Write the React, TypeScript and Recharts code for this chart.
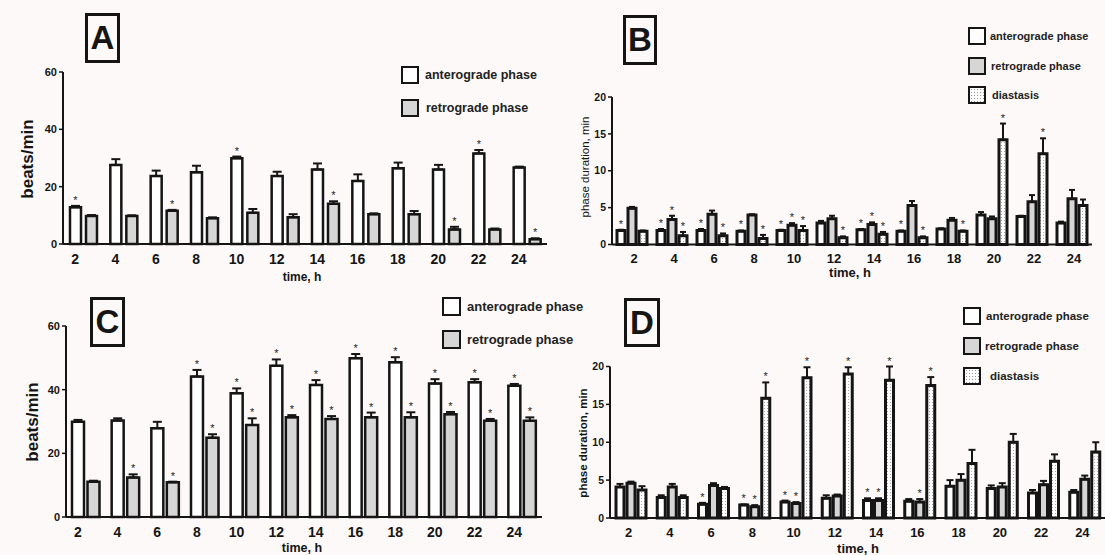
import React from "react";
import { BarChart, Bar, XAxis, YAxis, ErrorBar } from "recharts";

const hours = ["2", "4", "6", "8", "10", "12", "14", "16", "18", "20", "22", "24"];

// A: beats/min, first condition
const aAntero = [12.8, 27.6, 23.7, 25.0, 29.9, 23.7, 26.0, 22.0, 26.4, 26.0, 31.6, 26.7];
const aAnteroSem = [0.5, 2.0, 1.9, 2.3, 0.6, 1.5, 2.1, 2.3, 2.0, 1.6, 1.2, 0.3];
const aAnteroSig = [1, 0, 0, 0, 1, 0, 0, 0, 0, 0, 1, 0];
const aRetro = [9.8, 9.8, 11.6, 9.0, 10.9, 9.3, 14.0, 10.4, 10.4, 5.1, 5.1, 1.7];
const aRetroSem = [0.3, 0.2, 0.3, 0.3, 1.3, 1.1, 0.9, 0.3, 1.1, 0.9, 0.3, 0.3];
const aRetroSig = [0, 0, 1, 0, 0, 0, 1, 0, 0, 1, 0, 1];

// B: phase duration, first condition
const bAntero = [1.9, 1.9, 1.9, 1.8, 1.9, 2.9, 2.0, 1.8, 2.1, 4.0, 3.8, 2.9];
const bAnteroSem = [0.1, 0.2, 0.2, 0.1, 0.1, 0.3, 0.1, 0.1, 0.1, 0.4, 0.1, 0.2];
const bAnteroSig = [1, 1, 1, 1, 1, 0, 1, 1, 0, 0, 0, 0];
const bRetro = [4.9, 3.4, 4.1, 4.0, 2.6, 3.5, 2.7, 5.3, 3.3, 3.5, 5.8, 6.2];
const bRetroSem = [0.2, 0.5, 0.5, 0.1, 0.3, 0.4, 0.3, 0.6, 0.3, 0.3, 0.9, 1.2];
const bRetroSig = [0, 1, 0, 0, 1, 0, 1, 0, 0, 0, 0, 0];
const bDiast = [1.8, 1.2, 1.2, 0.8, 1.9, 0.9, 1.4, 0.9, 1.8, 14.2, 12.3, 5.3];
const bDiastSem = [0.1, 0.5, 0.3, 0.5, 0.6, 0.2, 0.3, 0.2, 0.1, 2.2, 2.1, 0.8];
const bDiastSig = [0, 1, 1, 1, 1, 1, 1, 1, 1, 1, 1, 0];

// C: beats/min, second condition
const cAntero = [29.9, 30.3, 27.9, 44.1, 38.9, 47.5, 41.5, 49.9, 48.6, 41.9, 42.3, 41.2];
const cAnteroSem = [0.6, 0.7, 2.0, 2.1, 1.5, 2.0, 1.5, 1.3, 1.6, 1.4, 1.0, 0.6];
const cAnteroSig = [0, 0, 0, 1, 1, 1, 1, 1, 1, 1, 1, 1];
const cRetro = [11.1, 12.4, 10.9, 24.9, 28.9, 31.3, 30.8, 31.3, 31.3, 32.3, 30.2, 30.2];
const cRetroSem = [0.3, 1.0, 0.2, 1.1, 2.1, 0.7, 0.9, 1.5, 1.6, 0.7, 0.6, 1.1];
const cRetroSig = [0, 1, 1, 1, 1, 1, 1, 1, 1, 1, 1, 1];

// D: phase duration, second condition
const dAntero = [4.1, 2.7, 1.8, 1.7, 2.1, 2.6, 2.3, 2.2, 4.2, 3.9, 3.3, 3.4];
const dAnteroSem = [0.4, 0.3, 0.2, 0.1, 0.2, 0.4, 0.3, 0.3, 0.8, 0.4, 0.4, 0.3];
const dAnteroSig = [0, 0, 1, 1, 1, 0, 1, 0, 0, 0, 0, 0];
const dRetro = [4.6, 4.1, 4.3, 1.5, 1.9, 2.9, 2.3, 2.1, 5.0, 4.1, 4.4, 5.1];
const dRetroSem = [0.2, 0.4, 0.3, 0.2, 0.2, 0.2, 0.3, 0.4, 0.8, 0.5, 0.5, 0.5];
const dRetroSig = [0, 0, 0, 1, 1, 0, 1, 1, 0, 0, 0, 0];
const dDiast = [3.7, 2.7, 3.9, 15.8, 18.5, 19.0, 18.2, 17.5, 7.2, 10.0, 7.5, 8.7];
const dDiastSem = [0.5, 0.3, 0.2, 2.1, 1.4, 0.9, 1.8, 1.1, 1.8, 1.1, 0.9, 1.3];
const dDiastSig = [0, 0, 0, 1, 1, 1, 1, 1, 0, 0, 0, 0];

const beatTicks = [0, 20, 40, 60];
const durTicks = [0, 5, 10, 15, 20];

const FONT = "'Liberation Sans', Arial, Helvetica, sans-serif";
const INK = "#151515";
const GREY = "#d6d6d6";

type Series = { vals: number[]; sem: number[]; sig: number[]; fill: string };

const buildRows = (series: Series[]) =>
  hours.map((h, i) => {
    const row: any = { h };
    series.forEach((s, k) => {
      row["v" + k] = s.vals[i];
      row["e" + k] = [0, s.sem[i]];
    });
    return row;
  });

// asterisk above the error bar, using the bar's own pixel scale
const starLabel = (s: Series) => (p: any) => {
  const vb = p.viewBox || {};
  const i = p.index;
  if (i == null || !s.sig[i]) return null;
  const x = p.x ?? vb.x;
  const y = p.y ?? vb.y;
  const w = p.width ?? vb.width;
  const hgt = Math.abs(p.height ?? vb.height);
  const v = s.vals[i];
  const top = y - (s.sem[i] * hgt) / v;
  return (
    <text key={"st" + i} x={x + w / 2} y={top - 2} textAnchor="middle" fontSize={11} fill="#222" stroke="none" fontFamily={FONT}>
      *
    </text>
  );
};

interface PanelProps {
  id: string;
  box: { left: number; top: number; width: number; height: number };
  plot: { left: number; top: number; right: number; bottom: number };
  series: Series[];
  yMax: number;
  yTicks: number[];
  barSize: number;
  barGap: number;
  cap: number;
  strokeW: number;
  tickDx: number;
  tickDy: number;
  xFont: number;
  yFont: number;
}

const Panel = ({ id, box, plot, series, yMax, yTicks, barSize, barGap, cap, strokeW, tickDx, tickDy, xFont, yFont }: PanelProps) => {
  const yW = 30;
  const xH = 20;
  const margin = {
    top: plot.top - box.top,
    left: plot.left - box.left - yW,
    right: box.left + box.width - plot.right,
    bottom: box.top + box.height - plot.bottom - xH,
  };
  const XTick = (p: any) => (
    <text
      x={p.x + tickDx}
      y={p.y + tickDy}
      textAnchor="middle"
      dominantBaseline="central"
      fontSize={xFont}
      fontWeight="bold"
      fill={INK}
      fontFamily={FONT}
    >
      {p.payload.value}
    </text>
  );
  return (
    <div style={{ position: "absolute", left: box.left, top: box.top }}>
      <BarChart
        width={box.width}
        height={box.height}
        data={buildRows(series)}
        margin={margin}
        barSize={barSize}
        barGap={barGap}
        style={{ overflow: "visible" }}
      >
        <defs>
          <pattern id={"dots" + id} width="3" height="3" patternUnits="userSpaceOnUse">
            <rect width="3" height="3" fill="#ffffff" />
            <rect x="1" y="1" width="1" height="1" fill="#a8a8a8" />
          </pattern>
        </defs>
        <XAxis
          dataKey="h"
          height={xH}
          axisLine={{ stroke: INK, strokeWidth: 2 }}
          tickLine={false}
          tickSize={0}
          tickMargin={0}
          interval={0}
          tick={XTick}
        />
        <YAxis
          width={yW}
          domain={[0, yMax]}
          ticks={yTicks}
          interval={0}
          axisLine={{ stroke: INK, strokeWidth: 2 }}
          tickLine={{ stroke: INK, strokeWidth: 1.5 }}
          tickSize={4}
          tickMargin={2}
          tick={{ fontSize: yFont, fontWeight: "bold", fill: INK, fontFamily: FONT }}
        />
        {series.map((s, k) => (
          <Bar
            key={k}
            dataKey={"v" + k}
            fill={s.fill === "dots" ? `url(#dots${id})` : s.fill}
            stroke={INK}
            strokeWidth={strokeW}
            isAnimationActive={false}
            label={starLabel(s)}
          >
            <ErrorBar dataKey={"e" + k} width={cap} stroke={INK} strokeWidth={2} direction="y" isAnimationActive={false} />
          </Bar>
        ))}
      </BarChart>
    </div>
  );
};

const TitleBox = ({ letter, left, top, width, height }: any) => (
  <div
    style={{
      position: "absolute",
      left,
      top,
      width,
      height,
      boxSizing: "border-box",
      border: `3px solid ${INK}`,
      display: "flex",
      alignItems: "center",
      justifyContent: "center",
      fontFamily: FONT,
      fontWeight: "bold",
      fontSize: 33,
      color: INK,
    }}
  >
    {letter}
  </div>
);

const swatch = (kind: string) =>
  kind === "dots"
    ? "radial-gradient(circle, #999 0.6px, transparent 0.9px) 0 0 / 3px 3px, #ffffff"
    : kind;

const LegendRow = ({ left, top, size, label, fill, fontSize, textDx }: any) => (
  <div style={{ position: "absolute", left, top, display: "flex", alignItems: "center", whiteSpace: "nowrap" }}>
    <div
      style={{
        width: size,
        height: size,
        boxSizing: "border-box",
        border: `2.5px solid ${INK}`,
        background: swatch(fill),
      }}
    />
    <span style={{ marginLeft: textDx, fontFamily: FONT, fontWeight: "bold", fontSize, color: "#222" }}>{label}</span>
  </div>
);

const Text = ({ x, y, children, size, weight = "bold", rotate = false }: any) => (
  <div
    style={{
      position: "absolute",
      left: x,
      top: y,
      transform: `translate(-50%, -50%)${rotate ? " rotate(-90deg)" : ""}`,
      whiteSpace: "nowrap",
      fontFamily: FONT,
      fontWeight: weight,
      fontSize: size,
      color: INK,
    }}
  >
    {children}
  </div>
);

export default function App() {
  const A: Series[] = [
    { vals: aAntero, sem: aAnteroSem, sig: aAnteroSig, fill: "#ffffff" },
    { vals: aRetro, sem: aRetroSem, sig: aRetroSig, fill: GREY },
  ];
  const B: Series[] = [
    { vals: bAntero, sem: bAnteroSem, sig: bAnteroSig, fill: "#ffffff" },
    { vals: bRetro, sem: bRetroSem, sig: bRetroSig, fill: GREY },
    { vals: bDiast, sem: bDiastSem, sig: bDiastSig, fill: "dots" },
  ];
  const C: Series[] = [
    { vals: cAntero, sem: cAnteroSem, sig: cAnteroSig, fill: "#ffffff" },
    { vals: cRetro, sem: cRetroSem, sig: cRetroSig, fill: GREY },
  ];
  const D: Series[] = [
    { vals: dAntero, sem: dAnteroSem, sig: dAnteroSig, fill: "#ffffff" },
    { vals: dRetro, sem: dRetroSem, sig: dRetroSig, fill: GREY },
    { vals: dDiast, sem: dDiastSem, sig: dDiastSig, fill: "dots" },
  ];
  return (
    <div
      style={{
        position: "absolute",
        left: 0,
        top: 0,
        width: 1105,
        height: 555,
        background: "#fcf9f8",
        overflow: "hidden",
      }}
    >
      <Panel
        id="A"
        box={{ left: 0, top: 0, width: 560, height: 280 }}
        plot={{ left: 63, top: 72, right: 547, bottom: 244 }}
        series={A}
        yMax={60}
        yTicks={beatTicks}
        barSize={11}
        barGap={5}
        cap={4.5}
        strokeW={2.5}
        tickDx={-8}
        tickDy={15}
        xFont={14}
        yFont={11}
      />
      <Panel
        id="B"
        box={{ left: 550, top: 0, width: 555, height: 280 }}
        plot={{ left: 612, top: 97, right: 1092, bottom: 244.5 }}
        series={B}
        yMax={20}
        yTicks={durTicks}
        barSize={8}
        barGap={3}
        cap={3}
        strokeW={3}
        tickDx={2}
        tickDy={14}
        xFont={13}
        yFont={10.5}
      />
      <Panel
        id="C"
        box={{ left: 0, top: 275, width: 560, height: 280 }}
        plot={{ left: 66, top: 326, right: 542, bottom: 517 }}
        series={C}
        yMax={60}
        yTicks={beatTicks}
        barSize={12}
        barGap={3.5}
        cap={4.5}
        strokeW={2.5}
        tickDx={-8}
        tickDy={15}
        xFont={14}
        yFont={11}
      />
      <Panel
        id="D"
        box={{ left: 550, top: 275, width: 555, height: 280 }}
        plot={{ left: 610, top: 366.5, right: 1105, bottom: 518 }}
        series={D}
        yMax={20}
        yTicks={durTicks}
        barSize={8}
        barGap={3}
        cap={3.5}
        strokeW={3}
        tickDx={-2}
        tickDy={14}
        xFont={13}
        yFont={10.5}
      />

      <TitleBox letter="A" left={85} top={13} width={35} height={50} />
      <TitleBox letter="B" left={623} top={15} width={34} height={50} />
      <TitleBox letter="C" left={90} top={297} width={35} height={50} />
      <TitleBox letter="D" left={624} top={298} width={36} height={49} />

      <Text x={28} y={159} size={17} rotate>beats/min</Text>
      <Text x={33} y={422} size={17} rotate>beats/min</Text>
      <Text x={585} y={167} size={11.5} weight="normal" rotate>phase duration, min</Text>
      <Text x={583} y={443} size={11.5} rotate>phase duration, min</Text>

      <Text x={302} y={277} size={12}>time, h</Text>
      <Text x={850} y={272} size={13}>time, h</Text>
      <Text x={302} y={548} size={12.5}>time, h</Text>
      <Text x={858} y={548} size={13}>time, h</Text>

      <LegendRow left={401} top={66} size={18} label="anterograde phase" fill="#ffffff" fontSize={12.5} textDx={6} />
      <LegendRow left={401} top={99} size={18} label="retrograde phase" fill={GREY} fontSize={12.5} textDx={7} />

      <LegendRow left={968} top={27} size={18} label="anterograde phase" fill="#ffffff" fontSize={11} textDx={4} />
      <LegendRow left={968} top={57} size={18} label="retrograde phase" fill={GREY} fontSize={11} textDx={5} />
      <LegendRow left={968} top={86} size={18} label="diastasis" fill="dots" fontSize={11} textDx={6} />

      <LegendRow left={442} top={297} size={19} label="anterograde phase" fill="#ffffff" fontSize={13} textDx={6} />
      <LegendRow left={442} top={330} size={19} label="retrograde phase" fill={GREY} fontSize={13} textDx={6} />

      <LegendRow left={963} top={307} size={18} label="anterograde phase" fill="#ffffff" fontSize={11.5} textDx={5} />
      <LegendRow left={963} top={337} size={18} label="retrograde phase" fill={GREY} fontSize={11.5} textDx={4} />
      <LegendRow left={963} top={367} size={18} label="diastasis" fill="dots" fontSize={11.5} textDx={9} />
    </div>
  );
}
